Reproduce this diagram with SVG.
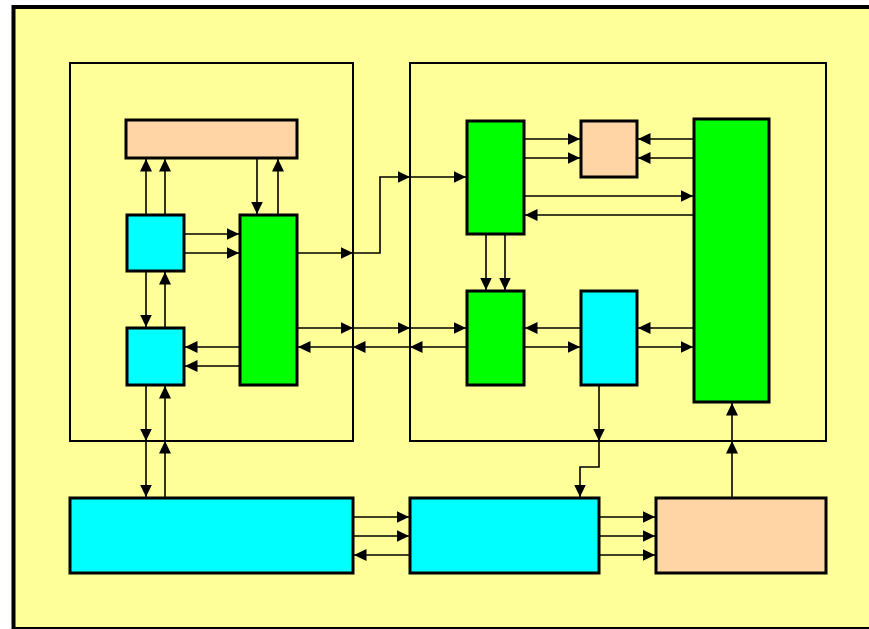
<svg xmlns="http://www.w3.org/2000/svg" width="869" height="629" viewBox="0 0 869 629">
<style>
.frame{fill:none;stroke:#000;stroke-width:2}
.box{stroke:#000;stroke-width:3}
.peach{fill:#FFD5A5}
.cyan{fill:#00FFFF}
.green{fill:#00FF00}
.c line,.c path{stroke:#000;stroke-width:1.6;fill:none;marker-end:url(#ah)}
</style>
<defs>
<marker id="ah" markerUnits="userSpaceOnUse" markerWidth="13" markerHeight="13" refX="12.5" refY="6.5" orient="auto">
<path d="M0,0.5 L12.5,6.5 L0,12.5 z" fill="#000"/>
</marker>
</defs>
<rect x="0" y="0" width="869" height="629" fill="#fff"/>
<rect x="13.5" y="7" width="870" height="622" fill="#FFFF99" stroke="#000" stroke-width="4"/>
<g id="frame-left"><rect class="frame" x="70" y="63" width="283" height="378"/></g>
<g id="frame-right"><rect class="frame" x="410" y="63" width="416" height="378"/></g>

<g id="peach-top"><rect class="box peach" x="126" y="120" width="171" height="38"/></g>
<g id="cyan-a"><rect class="box cyan" x="127" y="215" width="57" height="56"/></g>
<g id="cyan-b"><rect class="box cyan" x="127" y="328" width="57" height="57"/></g>
<g id="green-left"><rect class="box green" x="240" y="215" width="57" height="170"/></g>
<g id="green-top"><rect class="box green" x="467" y="121" width="57" height="113"/></g>
<g id="peach-small"><rect class="box peach" x="581" y="121" width="56" height="56"/></g>
<g id="green-big"><rect class="box green" x="694" y="119" width="75" height="283"/></g>
<g id="green-mid"><rect class="box green" x="467" y="291" width="57" height="94"/></g>
<g id="cyan-mid"><rect class="box cyan" x="581" y="291" width="56" height="94"/></g>
<g id="cyan-bottom-left"><rect class="box cyan" x="70" y="498" width="283" height="75"/></g>
<g id="cyan-bottom-mid"><rect class="box cyan" x="410" y="498" width="189" height="75"/></g>
<g id="peach-bottom"><rect class="box peach" x="656" y="498" width="170" height="75"/></g>

<g id="connectors" class="c">
<line x1="146" y1="215" x2="146" y2="159"/>
<line x1="165" y1="215" x2="165" y2="159"/>
<line x1="257" y1="158" x2="257" y2="214"/>
<line x1="278" y1="215" x2="278" y2="159"/>
<line x1="184" y1="234" x2="239" y2="234"/>
<line x1="184" y1="253" x2="239" y2="253"/>
<line x1="146" y1="271" x2="146" y2="327"/>
<line x1="165" y1="328" x2="165" y2="272"/>
<line x1="240" y1="347" x2="185" y2="347"/>
<line x1="240" y1="366" x2="185" y2="366"/>
<line x1="297" y1="253" x2="353" y2="253"/>
<path d="M353,253 H380 V177 H410"/>
<line x1="410" y1="177" x2="466" y2="177"/>
<line x1="297" y1="328" x2="353" y2="328"/>
<line x1="353" y1="328" x2="410" y2="328"/>
<line x1="410" y1="328" x2="466" y2="328"/>
<line x1="467" y1="347" x2="410" y2="347"/>
<line x1="410" y1="347" x2="353" y2="347"/>
<line x1="353" y1="347" x2="298" y2="347"/>
<line x1="146" y1="385" x2="146" y2="441"/>
<line x1="146" y1="441" x2="146" y2="497"/>
<line x1="165" y1="498" x2="165" y2="441"/>
<line x1="165" y1="441" x2="165" y2="386"/>
<line x1="353" y1="517" x2="409" y2="517"/>
<line x1="353" y1="536" x2="409" y2="536"/>
<line x1="410" y1="555" x2="354" y2="555"/>
<line x1="599" y1="517" x2="655" y2="517"/>
<line x1="599" y1="536" x2="655" y2="536"/>
<line x1="599" y1="555" x2="655" y2="555"/>
<line x1="732" y1="498" x2="732" y2="441"/>
<line x1="732" y1="441" x2="732" y2="403"/>
<line x1="599" y1="385" x2="599" y2="441"/>
<path d="M599,441 V467 H580 V497"/>
<line x1="524" y1="139" x2="580" y2="139"/>
<line x1="524" y1="158" x2="580" y2="158"/>
<line x1="694" y1="139" x2="638" y2="139"/>
<line x1="694" y1="158" x2="638" y2="158"/>
<line x1="524" y1="196" x2="693" y2="196"/>
<line x1="694" y1="215" x2="525" y2="215"/>
<line x1="486" y1="234" x2="486" y2="290"/>
<line x1="505" y1="234" x2="505" y2="290"/>
<line x1="581" y1="328" x2="525" y2="328"/>
<line x1="524" y1="347" x2="580" y2="347"/>
<line x1="694" y1="328" x2="638" y2="328"/>
<line x1="637" y1="347" x2="693" y2="347"/>
</g>
</svg>
